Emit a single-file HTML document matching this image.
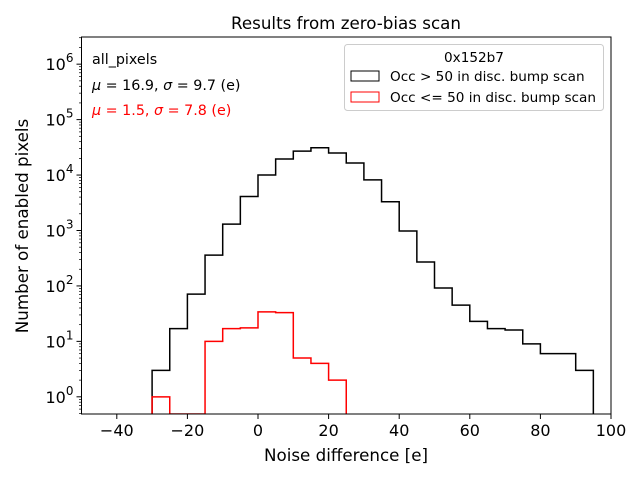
<!DOCTYPE html>
<html><head><meta charset="utf-8"><style>
body{margin:0;background:#fff;font-family:"DejaVu Sans","Liberation Sans",sans-serif}
</style></head><body>
<svg id="chart" width="640" height="480" xmlns="http://www.w3.org/2000/svg" font-family="DejaVu Sans, Liberation Sans, sans-serif">
<rect width="640" height="480" fill="#fff"/>
<text x="346" y="29" font-size="16.7" text-anchor="middle">Results from zero-bias scan</text>
<g id="plot"></g>
<text x="346" y="461" font-size="16.7" text-anchor="middle">Noise difference [e]</text>
<text transform="translate(28,226) rotate(-90)" font-size="16.7" text-anchor="middle">Number of enabled pixels</text>
<text x="92" y="64" font-size="14.3">all_pixels</text>
<text x="92" y="90" font-size="14.3"><tspan font-style="italic">μ</tspan> = 16.9, <tspan font-style="italic">σ</tspan> = 9.7 (e)</text>
<text x="92" y="115" font-size="14.3" fill="red"><tspan font-style="italic">μ</tspan> = 1.5, <tspan font-style="italic">σ</tspan> = 7.8 (e)</text>
<g>
<rect x="344.5" y="44.5" width="259" height="66" rx="3" fill="#fff" stroke="#ccc"/>
<text x="474" y="62" font-size="13.6" text-anchor="middle">0x152b7</text>
<rect x="351" y="71" width="28" height="10" fill="none" stroke="#000"/>
<text x="390" y="81" font-size="13.6">Occ &gt; 50 in disc. bump scan</text>
<rect x="351" y="92" width="28" height="10" fill="none" stroke="red"/>
<text x="390" y="102" font-size="13.6">Occ &lt;= 50 in disc. bump scan</text>
</g>
</svg>
<script>
const binEdgesStart = -30;
const binWidth = 5;
const blackCounts = [3,17,71,360,1300,4100,10000,19500,27000,31000,25000,16500,8200,3300,980,270,92,45,23,17,16,9,6,6,3];
const redCounts = [1,0,0,10,17,17.5,34,33,5,4,2];
const xTicks = [-40,-20,0,20,40,60,80,100];
const yTickExps = [0,1,2,3,4,5,6];

const L=81.5,R=611,T=37,B=414;
const xMin=-50,xMax=100,logMin=-0.31,logMax=6.49;
const xs=v=>L+(v-xMin)/(xMax-xMin)*(R-L);
const ys=v=>v<=0?B:B-(Math.log10(v)-logMin)/(logMax-logMin)*(B-T);
const NS="http://www.w3.org/2000/svg";
const g=document.getElementById('plot');
function mk(t,a){const e=document.createElementNS(NS,t);for(const k in a)e.setAttribute(k,a[k]);g.appendChild(e);return e;}
function stepPath(counts){
  let d=`M${xs(binEdgesStart)},${B}`;
  counts.forEach((c,i)=>{const x0=xs(binEdgesStart+i*binWidth),x1=xs(binEdgesStart+(i+1)*binWidth);d+=` L${x0},${ys(c)} L${x1},${ys(c)}`;});
  d+=` L${xs(binEdgesStart+counts.length*binWidth)},${B}`;
  return d;
}
const clip=mk('clipPath',{id:'cp'});
const cr=document.createElementNS(NS,'rect');cr.setAttribute('x',L);cr.setAttribute('y',T);cr.setAttribute('width',R-L);cr.setAttribute('height',B-T);clip.appendChild(cr);
const pb=mk('path',{d:stepPath(blackCounts),fill:'none',stroke:'#000','stroke-width':1.5,'clip-path':'url(#cp)'});


const pr=mk('path',{d:stepPath(redCounts),fill:'none',stroke:'red','stroke-width':1.5,'clip-path':'url(#cp)'});


const fr=mk('rect',{x:L,y:T,width:R-L,height:B-T,fill:'none',stroke:'#000','stroke-width':1});


xTicks.forEach(v=>{
  mk('line',{x1:xs(v),x2:xs(v),y1:B,y2:B+5,stroke:'#000'});
  const t=mk('text',{x:xs(v),y:B+22,'font-size':16,'text-anchor':'middle'});
  t.textContent=(v<0?'\u2212'+(-v):v);
  
  
});
for(let e=-1;e<=6;e++){
  for(let m=1;m<10;m++){
    const v=m*Math.pow(10,e);const y=ys(v);
    if(y<T||y>B)continue;
    mk('line',{x1:L-(m===1?5:2.5),x2:L,y1:y,y2:y,stroke:'#000','stroke-width':m===1?1:0.7});
  }
}
yTickExps.forEach(e=>{
  const t=mk('text',{x:L-8,y:ys(Math.pow(10,e))+6,'font-size':16,'text-anchor':'end'});
  
  
  t.innerHTML='10<tspan dy="-8" font-size="12">'+e+'</tspan>';
});
</script>
</body></html>
